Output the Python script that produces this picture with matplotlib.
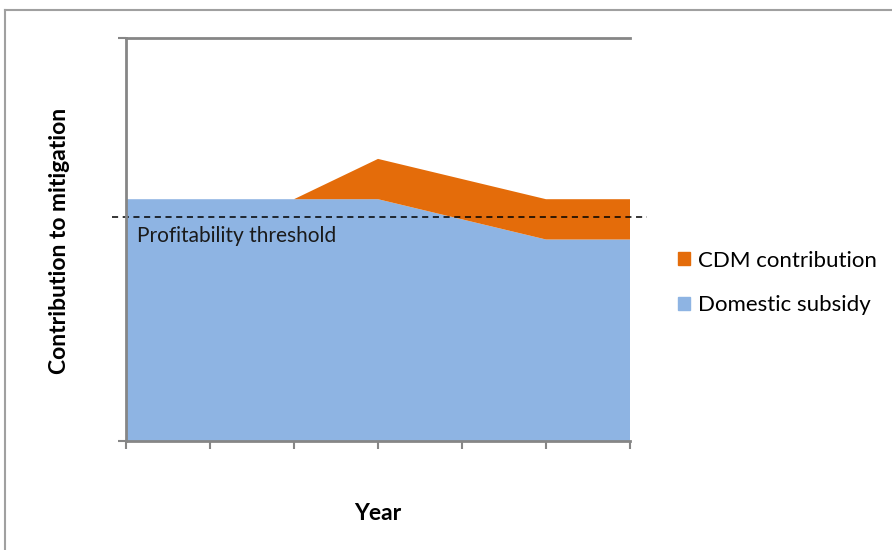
import matplotlib.pyplot as plt
from matplotlib.lines import Line2D
from matplotlib.patches import Patch
import numpy as np

plt.rcParams['font.family'] = ['Lato', 'DejaVu Sans']

years = [0, 1, 2, 3, 4, 5, 6]
domestic = [6, 6, 6, 6, 5.5, 5, 5]
cdm = [0, 0, 0, 1, 1, 1, 1]
threshold = 5.55

blue = '#8EB4E3'
orange = '#E46C0A'
grey = '#868686'

fig = plt.figure(figsize=(8.92, 5.5), dpi=100)
ax = fig.add_axes([126 / 892, 109 / 550, 504 / 892, 403 / 550])

ax.stackplot(years, domestic, cdm, colors=[blue, orange], linewidth=0)

ax.set_xlim(0, 6)
ax.set_ylim(0, 10)
ax.set_xticks(years)
ax.set_xticklabels([])
ax.set_yticks([0, 10])
ax.set_yticklabels([])
ax.tick_params(length=6, width=1.5, color=grey)

for side in ['left', 'bottom', 'top']:
    ax.spines[side].set_color(grey)
    ax.spines[side].set_linewidth(2)
ax.spines['right'].set_visible(False)

# dashed threshold line runs a bit past the plot area
ax.plot([-0.17, 6.2], [threshold, threshold], ls=(0, (4, 3)), color='black',
        lw=1.1, clip_on=False)
ax.text(0.13, threshold - 0.22, 'Profitability threshold', fontsize=15,
        va='top', ha='left', color='#1a1a1a')

ax.set_ylabel('Contribution to mitigation', fontsize=16.5, fontweight='bold')
ax.yaxis.set_label_coords(-0.111, 0.497)
ax.set_xlabel('Year', fontsize=16.5, fontweight='bold')
ax.xaxis.set_label_coords(0.5, -0.155)

handles = [Patch(color=orange, label='CDM contribution'),
           Patch(color=blue, label='Domestic subsidy')]
fig.legend(handles=handles, loc='center left', bbox_to_anchor=(678 / 892, 1 - 283 / 550),
           frameon=False, fontsize=16, handlelength=0.55, handleheight=0.55,
           handletextpad=0.36, labelspacing=1.12, borderpad=0, borderaxespad=0)

# chart border (partly cut off at right and bottom)
fig.add_artist(Line2D([5 / 892, 5 / 892], [0, 1 - 10 / 550], color='#a0a0a0', lw=1.5))
fig.add_artist(Line2D([5 / 892, 1], [1 - 10 / 550, 1 - 10 / 550], color='#a0a0a0', lw=1.5))

plt.savefig('out.png', dpi=100)
